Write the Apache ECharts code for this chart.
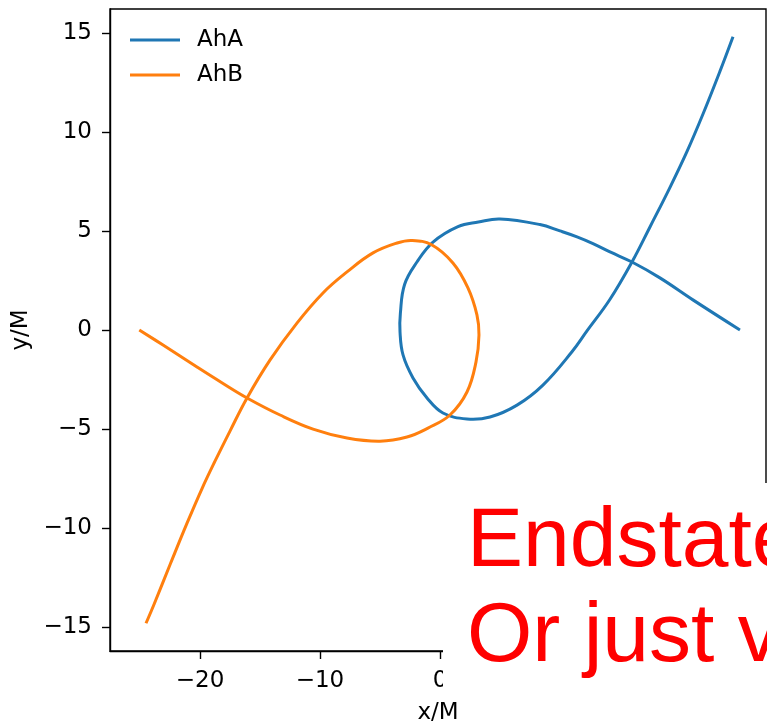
<!DOCTYPE html>
<html>
<head>
<meta charset="utf-8">
<script src="https://cdn.jsdelivr.net/npm/echarts@6/dist/echarts.min.js"></script>
<style>
  html, body { margin: 0; padding: 0; background: #fff; }
  #main { width: 767px; height: 723px; }
</style>
</head>
<body>
<div id="main"></div>
<script>
// AhA trajectory (x/M, y/M)
var ahaX = [25.0, 21.08, 18.33, 16.0, 14.17, 12.75, 11.42, 10.0, 8.33, 5.0, 3.2, 1.5, -0.58, -1.92,
  -2.95, -3.3, -3.33, -3.08, -2.25, -1.08, 0.25, 2.25, 4.17, 6.42, 8.58, 11.0, 12.25, 14.17,
  16.0, 17.5, 19.17, 20.58, 21.92, 23.33, 24.42];
var ahaY = [0.0, 1.52, 2.63, 3.43, 3.94, 4.36, 4.70, 5.0, 5.32, 5.60, 5.45, 5.22, 4.44, 3.43,
  2.3, 0.85, -0.10, -1.26, -2.42, -3.43, -4.19, -4.49, -4.39, -3.79, -2.78, -1.1, -0.05, 1.55,
  3.43, 5.20, 7.2, 9.0, 10.9, 13.05, 14.80];

// AhB trajectory
var ahbX = [-25.06, -23.08, -20.25, -18.08, -16.08, -13.33, -10.58, -7.75, -5.0, -2.75, -1.0, 0.83,
  2.25, 3.0, 3.25, 3.08, 2.33, 1.08, -0.7, -2.35, -3.58, -5.58, -7.75, -9.75, -11.92, -14.17,
  -16.08, -17.5, -18.75, -19.83, -21.08, -22.5, -23.8, -24.5];
var ahbY = [0.0, -0.76, -1.87, -2.7, -3.43, -4.29, -5.0, -5.45, -5.61, -5.40, -4.95, -4.29,
  -3.13, -1.62, -0.25, 0.76, 2.12, 3.38, 4.3, 4.52, 4.39, 3.89, 2.93, 1.87, 0.35, -1.52,
  -3.43, -5.1, -6.62, -8.0, -9.75, -11.85, -13.8, -14.8];

var xTicks = [-20, -10, 0, 10, 20];
var yTicks = [-15, -10, -5, 0, 5, 10, 15];

function pairs(xs, ys) {
  return xs.map(function (x, i) { return [x, ys[i]]; });
}
function minus(v) {
  return v < 0 ? '\u2212' + Math.abs(v) : String(v);
}

// the line series clamps its bezier handles, which leaves corners on loops,
// so the path is drawn as one smoothed polyline through the axis scales
function curve(name, xs, ys, color) {
  var pts = pairs(xs, ys);
  return {
    name: name,
    type: 'custom',
    coordinateSystem: 'cartesian2d',
    data: pts,
    encode: { x: 0, y: 1 },
    itemStyle: { color: color },
    renderItem: function (params, api) {
      if (params.dataIndex !== 0) return null;
      return {
        type: 'polyline',
        shape: { points: pts.map(function (d) { return api.coord(d); }), smooth: 0.4 },
        style: { stroke: color, lineWidth: 3, fill: null, lineJoin: 'round', lineCap: 'butt' }
      };
    }
  };
}

var chart = echarts.init(document.getElementById('main'), null, { renderer: 'canvas' });

var font = 'DejaVu Sans';
var fs = 23;
var axisCommon = {
  type: 'value',
  nameLocation: 'middle',
  nameTextStyle: { color: '#000', fontSize: fs, fontFamily: font },
  axisLine: { show: true, onZero: false, lineStyle: { color: '#000', width: 1.4 } },
  splitLine: { show: false }
};

chart.setOption({
  animation: false,
  textStyle: { fontFamily: font },
  grid: {
    left: 110, top: 9, right: 1, bottom: 72,
    containLabel: false,
    outerBoundsMode: 'none',
    show: true, borderColor: '#000', borderWidth: 1.4
  },
  legend: {
    orient: 'vertical',
    left: 130,
    top: 27,
    padding: 0,
    itemWidth: 50,
    itemHeight: 3,
    itemGap: 9,
    icon: 'rect',
    textStyle: { fontSize: fs, fontFamily: font, color: '#000', lineHeight: 26, padding: [0, 0, 0, 12] },
    data: ['AhA', 'AhB']
  },
  xAxis: Object.assign({}, axisCommon, {
    name: 'x/M',
    nameGap: 51,
    min: -27.5,
    max: 27.17,
    axisTick: { show: true, length: 8, customValues: xTicks, lineStyle: { color: '#000', width: 1.4 } },
    axisLabel: { customValues: xTicks, color: '#000', fontSize: fs, fontFamily: font, margin: 19, formatter: minus }
  }),
  yAxis: Object.assign({}, axisCommon, {
    name: 'y/M',
    nameGap: 76,
    min: -16.2,
    max: 16.2,
    axisTick: { show: true, length: 8, customValues: yTicks, lineStyle: { color: '#000', width: 1.4 } },
    axisLabel: { customValues: yTicks, color: '#000', fontSize: fs, fontFamily: font, margin: 18, formatter: minus }
  }),
  series: [
    curve('AhA', ahaX, ahaY, '#1f77b4'),
    curve('AhB', ahbX, ahbY, '#ff7f0e')
  ],
  graphic: [
    {
      type: 'rect', z: 100, left: 443, top: 483,
      shape: { width: 340, height: 212 },
      style: { fill: '#fff' }
    },
    {
      type: 'text', z: 101, x: 467, y: 543,
      style: { text: 'Endstate', fill: '#ff0000', font: '84px "Liberation Sans"', verticalAlign: 'middle' }
    },
    {
      type: 'text', z: 101, x: 467, y: 638,
      style: { text: 'Or just v', fill: '#ff0000', font: '84px "Liberation Sans"', verticalAlign: 'middle' }
    }
  ]
});
</script>
</body>
</html>
